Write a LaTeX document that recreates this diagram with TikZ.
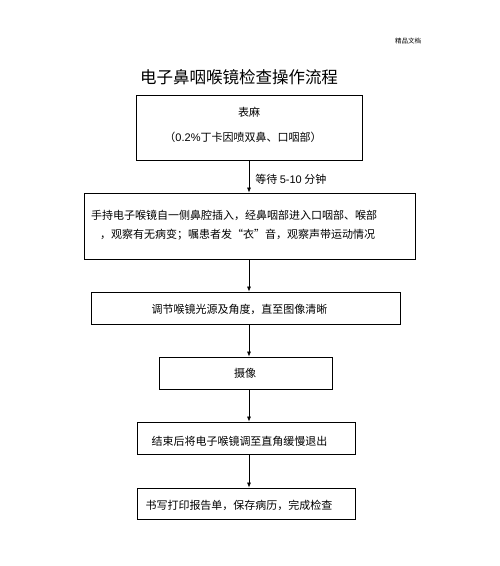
\documentclass[tikz,border=0pt]{standalone}
\usepackage{fontspec}
\setmainfont{Liberation Sans}
\newfontfamily\cjk{Noto Sans CJK SC}
\usetikzlibrary{arrows.meta}

\begin{document}
\begin{tikzpicture}[x=1pt,y=-1pt,
  box/.style={draw,line width=0.8pt,inner sep=0pt},
  txt/.style={inner sep=0pt,font=\fontsize{11}{13}\selectfont\cjk},
  flow/.style={-{Latex[length=5pt,width=4pt]},line width=0.7pt}]
\useasboundingbox (0,0) rectangle (500,566);
\node[inner sep=0pt,font=\fontsize{6.5}{8}\selectfont\cjk] (mark) at (408,41) {精品文档};
\node[inner sep=0pt,font=\fontsize{16.5}{18}\selectfont\cjk] (title) at (239,77) {电子鼻咽喉镜检查操作流程};
% boxes
\node[box,minimum width=226pt,minimum height=65pt] (biaoma) at (249,127.5) {};
\node[box,minimum width=331pt,minimum height=66pt] (charu) at (249.5,226) {};
\node[box,minimum width=309pt,minimum height=32pt] (tiaojie) at (245.5,308) {};
\node[box,minimum width=173pt,minimum height=32pt] (shexiang) at (245.5,373) {};
\node[box,minimum width=218pt,minimum height=32pt] (tuichu) at (246,438) {};
\node[box,minimum width=218pt,minimum height=31pt] (baogao) at (246,503.5) {};
% texts
\node[txt] (biaomaA) at (249,112) {表麻};
\node[txt] (biaomaB) at (243,137) {（{\rmfamily 0.2\%}丁卡因喷双鼻、口咽部）};
\node[txt,anchor=west] (charuA) at (91,215) {手持电子喉镜自一侧鼻腔插入，经鼻咽部进入口咽部、喉部};
\node[txt,anchor=west] (charuB) at (100,235) {，观察有无病变；嘱患者发“衣”音，观察声带运动情况};
\node[txt] (tiaojieT) at (239.5,309) {调节喉镜光源及角度，直至图像清晰};
\node[txt] (shexiangT) at (245,373) {摄像};
\node[txt] (tuichuT) at (239.5,441) {结束后将电子喉镜调至直角缓慢退出};
\node[txt] (baogaoT) at (239,505) {书写打印报告单，保存病历，完成检查};
% arrows
\draw[flow] (biaoma.south) -- (biaoma.south |- charu.north)
  node[txt,anchor=west,pos=0.6,xshift=6pt] (wait) {等待 {\rmfamily 5-10} 分钟};
\draw[flow] (biaoma.south |- charu.south) -- (biaoma.south |- tiaojie.north);
\draw[flow] (biaoma.south |- tiaojie.south) -- (biaoma.south |- shexiang.north);
\draw[flow] (biaoma.south |- shexiang.south) -- (biaoma.south |- tuichu.north);
\draw[flow] (biaoma.south |- tuichu.south) -- (biaoma.south |- baogao.north);
\end{tikzpicture}
\end{document}
